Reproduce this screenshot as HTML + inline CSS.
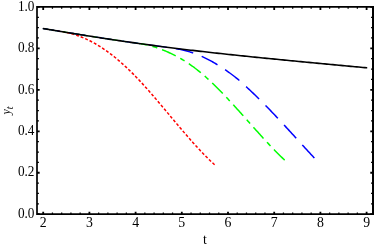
<!DOCTYPE html>
<html><head><meta charset="utf-8"><title>plot</title>
<style>
html,body{margin:0;padding:0;background:#fff;}
body{width:374px;height:248px;overflow:hidden;}
svg{display:block;will-change:transform;transform:translateZ(0);}
text{font-family:"Liberation Serif",serif;font-size:13.8px;fill:#000;}
</style></head><body>
<svg width="374" height="248" viewBox="0 0 374 248">
<rect width="374" height="248" fill="#fff"/>
<g fill="none" stroke-linecap="butt" stroke-linejoin="round">
<path d="M42.80,28.49 L43.80,28.65 L44.80,28.82 L45.80,28.98 L46.80,29.15 L47.80,29.31 L48.80,29.47 L49.80,29.64 L50.80,29.80 L51.80,29.97 L52.80,30.13 L53.80,30.30 L54.80,30.46 L55.80,30.63 L56.80,30.79 L57.80,30.96 L58.80,31.12 L59.80,31.29 L60.80,31.45 L61.80,31.61 L62.80,31.78 L63.80,31.94 L64.80,32.11 L65.80,32.27 L66.80,32.49" stroke="#ff0000" stroke-width="1.15" stroke-dasharray="2.9 1.94" stroke-dashoffset="4.69"/>
<path d="M66.80,32.49 L67.80,32.72 L68.80,32.96 L69.80,33.22 L70.80,33.49 L71.80,33.76 L72.80,34.05 L73.80,34.36 L74.80,34.67 L75.80,34.99 L76.80,35.33 L77.80,35.68 L78.80,36.04 L79.80,36.41 L80.80,36.79 L81.80,37.19 L82.80,37.59 L83.80,38.01 L84.80,38.44 L85.80,38.89 L86.80,39.34 L87.80,39.81 L88.80,40.29 L89.80,40.78 L90.80,41.29 L91.80,41.81 L92.80,42.34 L93.80,42.88 L94.80,43.43 L95.80,44.00 L96.80,44.58 L97.80,45.18 L98.80,45.78 L99.80,46.40 L100.80,47.04 L101.80,47.68 L102.80,48.34 L103.80,49.01 L104.80,49.70 L105.80,50.39 L106.80,51.10 L107.80,51.83 L108.80,52.56 L109.80,53.31 L110.80,54.07 L111.80,54.84 L112.80,55.62 L113.80,56.42 L114.80,57.23 L115.80,58.04 L116.80,58.87 L117.80,59.72 L118.80,60.57 L119.80,61.43 L120.80,62.31 L121.80,63.19 L122.80,64.09 L123.80,65.00 L124.80,65.91 L125.80,66.84 L126.80,67.78 L127.80,68.73 L128.80,69.69 L129.80,70.66 L130.80,71.64 L131.80,72.63 L132.80,73.63 L133.80,74.64 L134.80,75.65 L135.80,76.68 L136.80,77.72 L137.80,78.76 L138.80,79.82 L139.80,80.88 L140.80,81.95 L141.80,83.03 L142.80,84.12 L143.80,85.22 L144.80,86.32 L145.80,87.43 L146.80,88.55 L147.80,89.68 L148.80,90.81 L149.80,91.94 L150.80,93.09 L151.80,94.23 L152.80,95.39 L153.80,96.55 L154.80,97.71 L155.80,98.88 L156.80,100.05 L157.80,101.22 L158.80,102.40 L159.80,103.58 L160.80,104.77 L161.80,105.95 L162.80,107.14 L163.80,108.33 L164.80,109.52 L165.80,110.72 L166.80,111.91 L167.80,113.11 L168.80,114.31 L169.80,115.50 L170.80,116.70 L171.80,117.90 L172.80,119.09 L173.80,120.29 L174.80,121.48 L175.80,122.67 L176.80,123.86 L177.80,125.05 L178.80,126.23 L179.80,127.42 L180.80,128.60 L181.80,129.77 L182.80,130.95 L183.80,132.12 L184.80,133.28 L185.80,134.44 L186.80,135.60 L187.80,136.75 L188.80,137.90 L189.80,139.04 L190.80,140.17 L191.80,141.30 L192.80,142.42 L193.80,143.54 L194.80,144.65 L195.80,145.75 L196.80,146.84 L197.80,147.93 L198.80,149.00 L199.80,150.07 L200.80,151.13 L201.80,152.18 L202.80,153.23 L203.80,154.26 L204.80,155.28 L205.80,156.29 L206.80,157.30 L207.80,158.29 L208.80,159.27 L209.80,160.23 L210.80,161.19 L211.80,162.14 L212.80,163.07 L213.80,163.99 L214.60,164.72" stroke="#ff0000" stroke-width="1.5" stroke-dasharray="2.9 1.94" stroke-dashoffset="4.82"/>
<path d="M42.80,28.49 L43.80,28.65 L44.80,28.82 L45.80,28.98 L46.80,29.15 L47.80,29.31 L48.80,29.47 L49.80,29.64 L50.80,29.80 L51.80,29.97 L52.80,30.13 L53.80,30.30 L54.80,30.46 L55.80,30.63 L56.80,30.79 L57.80,30.96 L58.80,31.12 L59.80,31.29 L60.80,31.45 L61.80,31.61 L62.80,31.78 L63.80,31.94 L64.80,32.11 L65.80,32.27 L66.80,32.43 L67.80,32.60 L68.80,32.76 L69.80,32.92 L70.80,33.09 L71.80,33.25 L72.80,33.41 L73.80,33.57 L74.80,33.74 L75.80,33.90 L76.80,34.06 L77.80,34.22 L78.80,34.38 L79.80,34.54 L80.80,34.70 L81.80,34.87 L82.80,35.03 L83.80,35.19 L84.80,35.35 L85.80,35.51 L86.80,35.67 L87.80,35.82 L88.80,35.98 L89.80,36.14 L90.80,36.30 L91.80,36.46 L92.80,36.62 L93.80,36.77 L94.80,36.93 L95.80,37.09 L96.80,37.24 L97.80,37.40 L98.80,37.55 L99.80,37.71 L100.80,37.86 L101.80,38.02 L102.80,38.17 L103.80,38.33 L104.80,38.48 L105.80,38.63 L106.80,38.79 L107.80,38.94 L108.80,39.09 L109.80,39.24 L110.80,39.40 L111.80,39.55 L112.80,39.70 L113.80,39.85 L114.80,40.00 L115.80,40.15 L116.80,40.30 L117.80,40.44 L118.80,40.59 L119.80,40.74 L120.80,40.89 L121.80,41.03 L122.80,41.18 L123.80,41.33 L124.80,41.47 L125.80,41.62 L126.80,41.76 L127.80,41.91 L128.80,42.05 L129.80,42.20 L130.80,42.34 L131.80,42.48 L132.80,42.63 L133.80,42.77 L134.80,42.91 L135.80,43.05 L136.80,43.19 L137.80,43.33 L138.80,43.47 L139.80,43.61 L140.80,43.75" stroke="#00ff00" stroke-width="1.15" stroke-dasharray="15.0 5.1 5.1 5.1" stroke-dashoffset="30.20"/>
<path d="M140.80,43.75 L141.80,43.89 L142.80,44.04 L143.80,44.23 L144.80,44.44 L145.80,44.65 L146.80,44.88 L147.80,45.12 L148.80,45.37 L149.80,45.63 L150.80,45.89 L151.80,46.17 L152.80,46.46 L153.80,46.76 L154.80,47.07 L155.80,47.40 L156.80,47.73 L157.80,48.07 L158.80,48.42 L159.80,48.79 L160.80,49.16 L161.80,49.54 L162.80,49.93 L163.80,50.33 L164.80,50.74 L165.80,51.17 L166.80,51.60 L167.80,52.04 L168.80,52.49 L169.80,52.95 L170.80,53.42 L171.80,53.90 L172.80,54.38 L173.80,54.88 L174.80,55.39 L175.80,55.91 L176.80,56.44 L177.80,56.98 L178.80,57.53 L179.80,58.09 L180.80,58.67 L181.80,59.25 L182.80,59.85 L183.80,60.46 L184.80,61.08 L185.80,61.71 L186.80,62.35 L187.80,63.01 L188.80,63.68 L189.80,64.37 L190.80,65.06 L191.80,65.77 L192.80,66.50 L193.80,67.23 L194.80,67.98 L195.80,68.74 L196.80,69.52 L197.80,70.31 L198.80,71.11 L199.80,71.92 L200.80,72.75 L201.80,73.59 L202.80,74.44 L203.80,75.30 L204.80,76.17 L205.80,77.06 L206.80,77.96 L207.80,78.86 L208.80,79.78 L209.80,80.71 L210.80,81.65 L211.80,82.59 L212.80,83.55 L213.80,84.52 L214.80,85.49 L215.80,86.48 L216.80,87.47 L217.80,88.47 L218.80,89.48 L219.80,90.50 L220.80,91.52 L221.80,92.55 L222.80,93.59 L223.80,94.63 L224.80,95.68 L225.80,96.73 L226.80,97.79 L227.80,98.86 L228.80,99.93 L229.80,101.00 L230.80,102.08 L231.80,103.16 L232.80,104.25 L233.80,105.34 L234.80,106.44 L235.80,107.54 L236.80,108.64 L237.80,109.75 L238.80,110.86 L239.80,111.97 L240.80,113.08 L241.80,114.20 L242.80,115.31 L243.80,116.43 L244.80,117.55 L245.80,118.67 L246.80,119.80 L247.80,120.92 L248.80,122.04 L249.80,123.16 L250.80,124.29 L251.80,125.41 L252.80,126.53 L253.80,127.65 L254.80,128.77 L255.80,129.88 L256.80,131.00 L257.80,132.11 L258.80,133.22 L259.80,134.33 L260.80,135.43 L261.80,136.53 L262.80,137.63 L263.80,138.72 L264.80,139.81 L265.80,140.90 L266.80,141.98 L267.80,143.05 L268.80,144.12 L269.80,145.18 L270.80,146.24 L271.80,147.29 L272.80,148.34 L273.80,149.38 L274.80,150.41 L275.80,151.43 L276.80,152.45 L277.80,153.45 L278.80,154.45 L279.80,155.45 L280.80,156.43 L281.80,157.40 L282.80,158.37 L283.80,159.32 L284.80,160.27 L285.20,160.64" stroke="#00ff00" stroke-width="1.5" stroke-dasharray="15.0 5.1 5.1 5.1" stroke-dashoffset="8.18"/>
<path d="M42.80,28.49 L43.80,28.65 L44.80,28.82 L45.80,28.98 L46.80,29.15 L47.80,29.31 L48.80,29.47 L49.80,29.64 L50.80,29.80 L51.80,29.97 L52.80,30.13 L53.80,30.30 L54.80,30.46 L55.80,30.63 L56.80,30.79 L57.80,30.96 L58.80,31.12 L59.80,31.29 L60.80,31.45 L61.80,31.61 L62.80,31.78 L63.80,31.94 L64.80,32.11 L65.80,32.27 L66.80,32.43 L67.80,32.60 L68.80,32.76 L69.80,32.92 L70.80,33.09 L71.80,33.25 L72.80,33.41 L73.80,33.57 L74.80,33.74 L75.80,33.90 L76.80,34.06 L77.80,34.22 L78.80,34.38 L79.80,34.54 L80.80,34.70 L81.80,34.87 L82.80,35.03 L83.80,35.19 L84.80,35.35 L85.80,35.51 L86.80,35.67 L87.80,35.82 L88.80,35.98 L89.80,36.14 L90.80,36.30 L91.80,36.46 L92.80,36.62 L93.80,36.77 L94.80,36.93 L95.80,37.09 L96.80,37.24 L97.80,37.40 L98.80,37.55 L99.80,37.71 L100.80,37.86 L101.80,38.02 L102.80,38.17 L103.80,38.33 L104.80,38.48 L105.80,38.63 L106.80,38.79 L107.80,38.94 L108.80,39.09 L109.80,39.24 L110.80,39.40 L111.80,39.55 L112.80,39.70 L113.80,39.85 L114.80,40.00 L115.80,40.15 L116.80,40.30 L117.80,40.44 L118.80,40.59 L119.80,40.74 L120.80,40.89 L121.80,41.03 L122.80,41.18 L123.80,41.33 L124.80,41.47 L125.80,41.62 L126.80,41.76 L127.80,41.91 L128.80,42.05 L129.80,42.20 L130.80,42.34 L131.80,42.48 L132.80,42.63 L133.80,42.77 L134.80,42.91 L135.80,43.05 L136.80,43.19 L137.80,43.33 L138.80,43.47 L139.80,43.61 L140.80,43.75 L141.80,43.89 L142.80,44.03 L143.80,44.16 L144.80,44.30 L145.80,44.44 L146.80,44.58 L147.80,44.71 L148.80,44.85 L149.80,44.98 L150.80,45.12 L151.80,45.25 L152.80,45.39 L153.80,45.52 L154.80,45.65 L155.80,45.79 L156.80,45.92 L157.80,46.05 L158.80,46.18 L159.80,46.31 L160.80,46.44 L161.80,46.57 L162.80,46.70 L163.80,46.83 L164.80,46.96 L165.80,47.09 L166.80,47.23 L167.80,47.39 L168.80,47.54" stroke="#0000ff" stroke-width="1.15" stroke-dasharray="17.9 9.1" stroke-dashoffset="0.40"/>
<path d="M168.80,47.54 L169.80,47.71 L170.80,47.87 L171.80,48.04 L172.80,48.21 L173.80,48.37 L174.80,48.54 L175.80,48.70 L176.80,48.85 L177.80,49.01 L178.80,49.16 L179.80,49.32 L180.80,49.51 L181.80,49.73 L182.80,49.97 L183.80,50.22 L184.80,50.47 L185.80,50.73 L186.80,51.01 L187.80,51.29 L188.80,51.59 L189.80,51.91 L190.80,52.23 L191.80,52.56 L192.80,52.91 L193.80,53.27 L194.80,53.63 L195.80,54.00 L196.80,54.38 L197.80,54.76 L198.80,55.16 L199.80,55.57 L200.80,56.00 L201.80,56.43 L202.80,56.88 L203.80,57.35 L204.80,57.82 L205.80,58.31 L206.80,58.80 L207.80,59.31 L208.80,59.83 L209.80,60.36 L210.80,60.90 L211.80,61.45 L212.80,62.02 L213.80,62.59 L214.80,63.17 L215.80,63.76 L216.80,64.36 L217.80,64.98 L218.80,65.59 L219.80,66.22 L220.80,66.85 L221.80,67.50 L222.80,68.15 L223.80,68.81 L224.80,69.49 L225.80,70.17 L226.80,70.86 L227.80,71.57 L228.80,72.29 L229.80,73.01 L230.80,73.74 L231.80,74.48 L232.80,75.23 L233.80,75.99 L234.80,76.77 L235.80,77.56 L236.80,78.36 L237.80,79.18 L238.80,80.02 L239.80,80.88 L240.80,81.76 L241.80,82.66 L242.80,83.58 L243.80,84.50 L244.80,85.42 L245.80,86.35 L246.80,87.28 L247.80,88.20 L248.80,89.13 L249.80,90.07 L250.80,91.01 L251.80,91.96 L252.80,92.91 L253.80,93.87 L254.80,94.83 L255.80,95.79 L256.80,96.76 L257.80,97.73 L258.80,98.71 L259.80,99.70 L260.80,100.69 L261.80,101.68 L262.80,102.69 L263.80,103.69 L264.80,104.70 L265.80,105.72 L266.80,106.74 L267.80,107.77 L268.80,108.80 L269.80,109.84 L270.80,110.88 L271.80,111.92 L272.80,112.97 L273.80,114.02 L274.80,115.07 L275.80,116.13 L276.80,117.19 L277.80,118.26 L278.80,119.32 L279.80,120.39 L280.80,121.47 L281.80,122.54 L282.80,123.62 L283.80,124.70 L284.80,125.78 L285.80,126.87 L286.80,127.96 L287.80,129.04 L288.80,130.13 L289.80,131.22 L290.80,132.32 L291.80,133.41 L292.80,134.50 L293.80,135.60 L294.80,136.69 L295.80,137.79 L296.80,138.88 L297.80,139.98 L298.80,141.08 L299.80,142.17 L300.80,143.27 L301.80,144.37 L302.80,145.46 L303.80,146.55 L304.80,147.65 L305.80,148.74 L306.80,149.83 L307.80,150.92 L308.80,152.01 L309.80,153.10 L310.80,154.18 L311.80,155.27 L312.80,156.35 L313.80,157.43 L314.80,158.50 L315.20,158.93" stroke="#0000ff" stroke-width="1.5" stroke-dasharray="17.9 9.1" stroke-dashoffset="19.84"/>
<path d="M42.80,28.49 L44.80,28.82 L46.80,29.15 L48.80,29.47 L50.80,29.80 L52.80,30.13 L54.80,30.46 L56.80,30.79 L58.80,31.12 L60.80,31.45 L62.80,31.78 L64.80,32.11 L66.80,32.43 L68.80,32.76 L70.80,33.09 L72.80,33.41 L74.80,33.74 L76.80,34.06 L78.80,34.38 L80.80,34.70 L82.80,35.03 L84.80,35.35 L86.80,35.67 L88.80,35.98 L90.80,36.30 L92.80,36.62 L94.80,36.93 L96.80,37.24 L98.80,37.55 L100.80,37.86 L102.80,38.17 L104.80,38.48 L106.80,38.79 L108.80,39.09 L110.80,39.40 L112.80,39.70 L114.80,40.00 L116.80,40.30 L118.80,40.59 L120.80,40.89 L122.80,41.18 L124.80,41.47 L126.80,41.76 L128.80,42.05 L130.80,42.34 L132.80,42.63 L134.80,42.91 L136.80,43.19 L138.80,43.47 L140.80,43.75 L142.80,44.03 L144.80,44.30 L146.80,44.58 L148.80,44.85 L150.80,45.12 L152.80,45.39 L154.80,45.65 L156.80,45.92 L158.80,46.18 L160.80,46.44 L162.80,46.70 L164.80,46.96 L166.80,47.22 L168.80,47.47 L170.80,47.73 L172.80,47.98 L174.80,48.23 L176.80,48.48 L178.80,48.72 L180.80,48.97 L182.80,49.21 L184.80,49.45 L186.80,49.69 L188.80,49.93 L190.80,50.17 L192.80,50.41 L194.80,50.64 L196.80,50.88 L198.80,51.11 L200.80,51.34 L202.80,51.57 L204.80,51.80 L206.80,52.02 L208.80,52.25 L210.80,52.47 L212.80,52.69 L214.80,52.92 L216.80,53.14 L218.80,53.36 L220.80,53.57 L222.80,53.79 L224.80,54.01 L226.80,54.22 L228.80,54.44 L230.80,54.65 L232.80,54.86 L234.80,55.07 L236.80,55.28 L238.80,55.49 L240.80,55.70 L242.80,55.90 L244.80,56.11 L246.80,56.32 L248.80,56.52 L250.80,56.73 L252.80,56.93 L254.80,57.13 L256.80,57.33 L258.80,57.53 L260.80,57.73 L262.80,57.93 L264.80,58.13 L266.80,58.33 L268.80,58.53 L270.80,58.73 L272.80,58.92 L274.80,59.12 L276.80,59.32 L278.80,59.51 L280.80,59.71 L282.80,59.90 L284.80,60.10 L286.80,60.29 L288.80,60.48 L290.80,60.68 L292.80,60.87 L294.80,61.06 L296.80,61.25 L298.80,61.45 L300.80,61.64 L302.80,61.83 L304.80,62.02 L306.80,62.21 L308.80,62.40 L310.80,62.59 L312.80,62.78 L314.80,62.97 L316.80,63.16 L318.80,63.35 L320.80,63.54 L322.80,63.72 L324.80,63.91 L326.80,64.10 L328.80,64.29 L330.80,64.48 L332.80,64.66 L334.80,64.85 L336.80,65.04 L338.80,65.22 L340.80,65.41 L342.80,65.59 L344.80,65.78 L346.80,65.97 L348.80,66.15 L350.80,66.33 L352.80,66.52 L354.80,66.70 L356.80,66.88 L358.80,67.07 L360.80,67.25 L362.80,67.43 L364.80,67.61 L366.80,67.79 L367.20,67.83" stroke="#000" stroke-width="1.6"/>
</g>
<g stroke="#000" fill="none">
<path d="M37.0,215.04999999999998 V6.9 H374.0 M36.15,214.2 H374.0" stroke-width="1.7" stroke-linejoin="miter"/>
<path d="M373.0,6.050000000000001 V215.04999999999998" stroke-width="2"/>
<g stroke-width="1.8"><path d="M43.20,214.2 v-2.45 M43.20,6.9 v3.1"/><path d="M89.40,214.2 v-2.45 M89.40,6.9 v3.1"/><path d="M135.60,214.2 v-2.45 M135.60,6.9 v3.1"/><path d="M181.80,214.2 v-2.45 M181.80,6.9 v3.1"/><path d="M228.00,214.2 v-2.45 M228.00,6.9 v3.1"/><path d="M274.20,214.2 v-2.45 M274.20,6.9 v3.1"/><path d="M320.40,214.2 v-2.45 M320.40,6.9 v3.1"/><path d="M366.60,214.2 v-2.45 M366.60,6.9 v3.1"/><path d="M37.0,214.20 h2.65 M373.0,214.20 h-2.7"/><path d="M37.0,172.74 h2.65 M373.0,172.74 h-2.7"/><path d="M37.0,131.28 h2.65 M373.0,131.28 h-2.7"/><path d="M37.0,89.82 h2.65 M373.0,89.82 h-2.7"/><path d="M37.0,48.36 h2.65 M373.0,48.36 h-2.7"/><path d="M37.0,6.90 h2.65 M373.0,6.90 h-2.7"/></g>
<g stroke-width="1.25"><path d="M52.44,214.2 v-1.7 M52.44,6.9 v1.85"/><path d="M61.68,214.2 v-1.7 M61.68,6.9 v1.85"/><path d="M70.92,214.2 v-1.7 M70.92,6.9 v1.85"/><path d="M80.16,214.2 v-1.7 M80.16,6.9 v1.85"/><path d="M98.64,214.2 v-1.7 M98.64,6.9 v1.85"/><path d="M107.88,214.2 v-1.7 M107.88,6.9 v1.85"/><path d="M117.12,214.2 v-1.7 M117.12,6.9 v1.85"/><path d="M126.36,214.2 v-1.7 M126.36,6.9 v1.85"/><path d="M144.84,214.2 v-1.7 M144.84,6.9 v1.85"/><path d="M154.08,214.2 v-1.7 M154.08,6.9 v1.85"/><path d="M163.32,214.2 v-1.7 M163.32,6.9 v1.85"/><path d="M172.56,214.2 v-1.7 M172.56,6.9 v1.85"/><path d="M191.04,214.2 v-1.7 M191.04,6.9 v1.85"/><path d="M200.28,214.2 v-1.7 M200.28,6.9 v1.85"/><path d="M209.52,214.2 v-1.7 M209.52,6.9 v1.85"/><path d="M218.76,214.2 v-1.7 M218.76,6.9 v1.85"/><path d="M237.24,214.2 v-1.7 M237.24,6.9 v1.85"/><path d="M246.48,214.2 v-1.7 M246.48,6.9 v1.85"/><path d="M255.72,214.2 v-1.7 M255.72,6.9 v1.85"/><path d="M264.96,214.2 v-1.7 M264.96,6.9 v1.85"/><path d="M283.44,214.2 v-1.7 M283.44,6.9 v1.85"/><path d="M292.68,214.2 v-1.7 M292.68,6.9 v1.85"/><path d="M301.92,214.2 v-1.7 M301.92,6.9 v1.85"/><path d="M311.16,214.2 v-1.7 M311.16,6.9 v1.85"/><path d="M329.64,214.2 v-1.7 M329.64,6.9 v1.85"/><path d="M338.88,214.2 v-1.7 M338.88,6.9 v1.85"/><path d="M348.12,214.2 v-1.7 M348.12,6.9 v1.85"/><path d="M357.36,214.2 v-1.7 M357.36,6.9 v1.85"/><path d="M37.0,203.83 h1.9 M373.0,203.83 h-1.95"/><path d="M37.0,193.47 h1.9 M373.0,193.47 h-1.95"/><path d="M37.0,183.10 h1.9 M373.0,183.10 h-1.95"/><path d="M37.0,162.38 h1.9 M373.0,162.38 h-1.95"/><path d="M37.0,152.01 h1.9 M373.0,152.01 h-1.95"/><path d="M37.0,141.64 h1.9 M373.0,141.64 h-1.95"/><path d="M37.0,120.91 h1.9 M373.0,120.91 h-1.95"/><path d="M37.0,110.55 h1.9 M373.0,110.55 h-1.95"/><path d="M37.0,100.18 h1.9 M373.0,100.18 h-1.95"/><path d="M37.0,79.45 h1.9 M373.0,79.45 h-1.95"/><path d="M37.0,69.09 h1.9 M373.0,69.09 h-1.95"/><path d="M37.0,58.72 h1.9 M373.0,58.72 h-1.95"/><path d="M37.0,37.99 h1.9 M373.0,37.99 h-1.95"/><path d="M37.0,27.63 h1.9 M373.0,27.63 h-1.95"/><path d="M37.0,17.26 h1.9 M373.0,17.26 h-1.95"/></g>
</g>
<text x="43.20" y="226.6" text-anchor="middle">2</text><text x="89.40" y="226.6" text-anchor="middle">3</text><text x="135.60" y="226.6" text-anchor="middle">4</text><text x="181.80" y="226.6" text-anchor="middle">5</text><text x="228.00" y="226.6" text-anchor="middle">6</text><text x="274.20" y="226.6" text-anchor="middle">7</text><text x="320.40" y="226.6" text-anchor="middle">8</text><text x="366.60" y="226.6" text-anchor="middle">9</text><text transform="translate(34.5,217.90) scale(0.96,1)" text-anchor="end">0.0</text><text transform="translate(34.5,176.44) scale(0.96,1)" text-anchor="end">0.2</text><text transform="translate(34.5,134.98) scale(0.96,1)" text-anchor="end">0.4</text><text transform="translate(34.5,93.52) scale(0.96,1)" text-anchor="end">0.6</text><text transform="translate(34.5,52.06) scale(0.96,1)" text-anchor="end">0.8</text><text transform="translate(34.5,10.60) scale(0.96,1)" text-anchor="end">1.0</text>
<text x="205" y="244.4" text-anchor="middle">t</text>
<text transform="translate(10.2,106.5) rotate(-90)" text-anchor="start" style="font-style:italic;font-size:12px"><tspan x="-8.0" y="0">y</tspan><tspan dx="0" dy="2.7" style="font-size:10px">t</tspan></text>
</svg>
</body></html>
